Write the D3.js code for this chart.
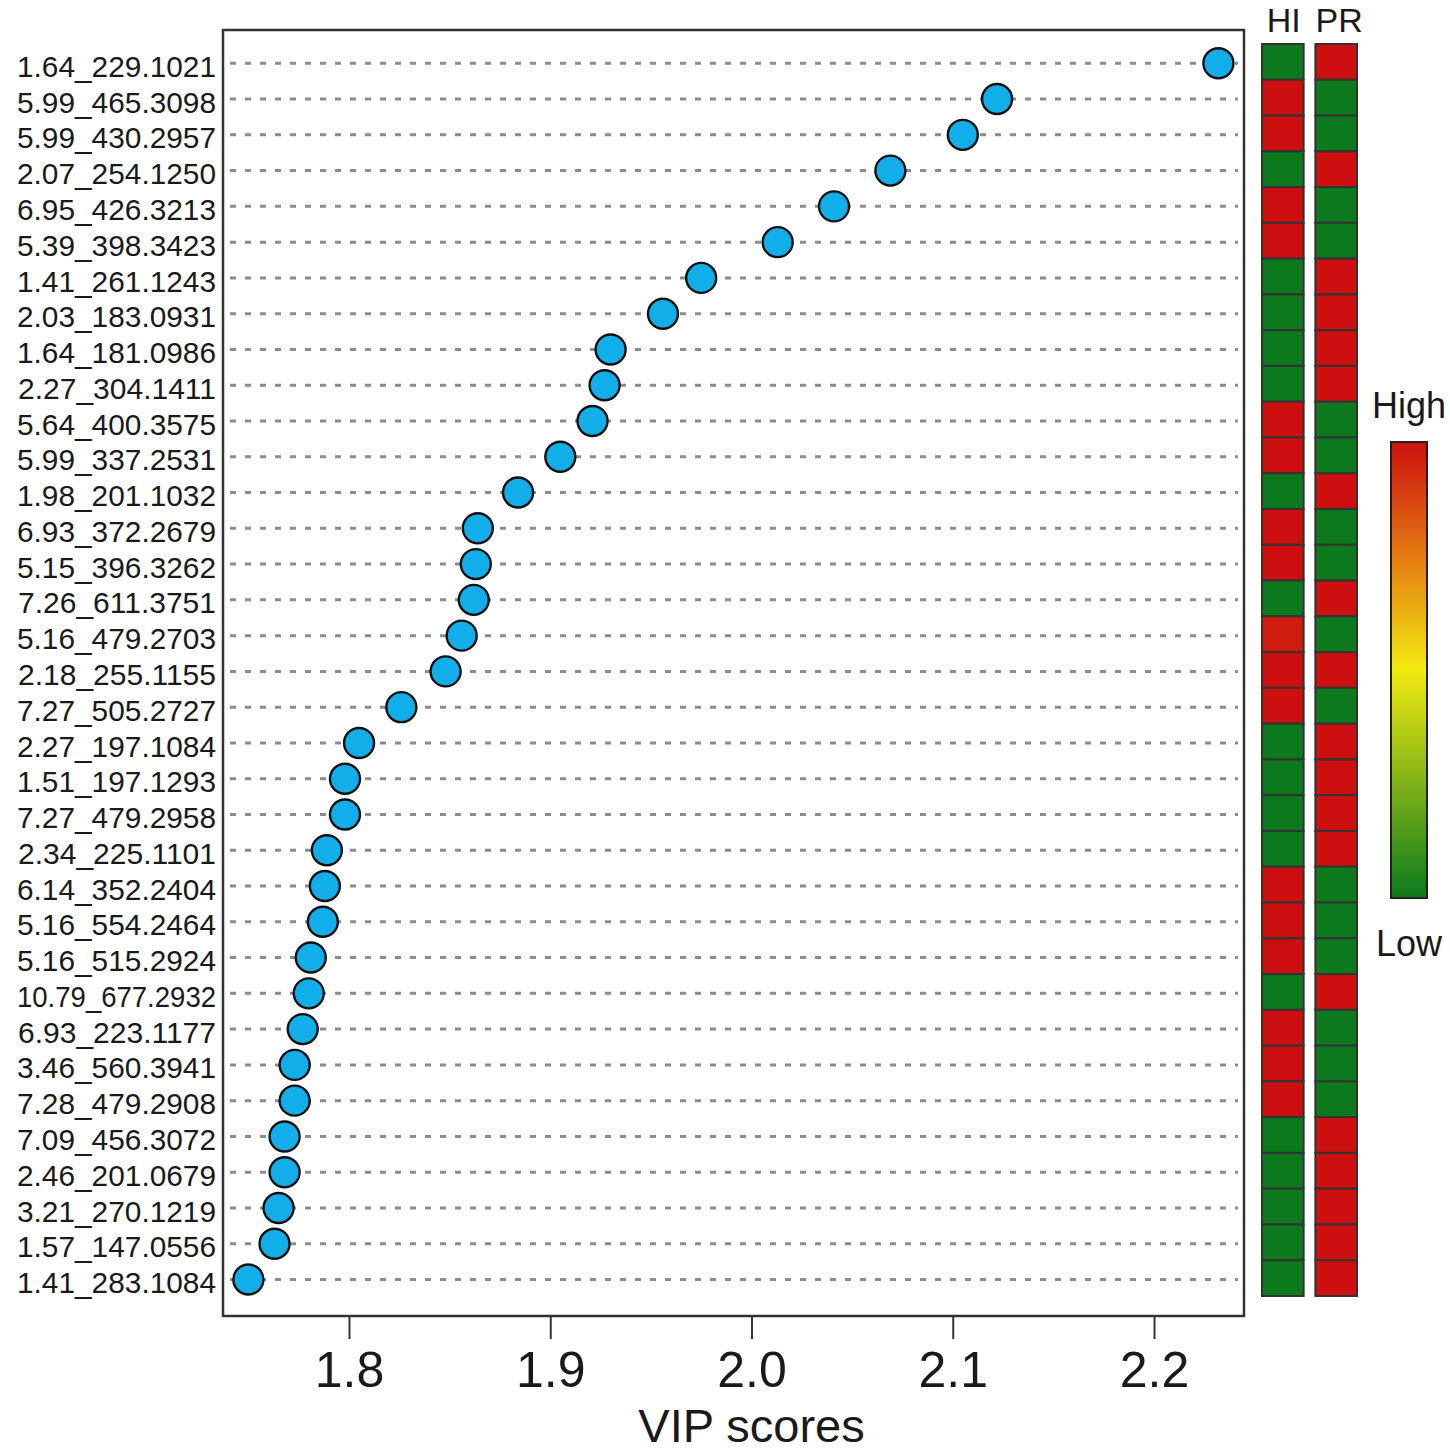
<!DOCTYPE html>
<html>
<head>
<meta charset="UTF-8">
<script src="https://d3js.org/d3.v7.min.js"></script>
<style>
body{margin:0;background:#fff}
svg{display:block}
text{font-family:"Liberation Sans",Arial,Helvetica,sans-serif;fill:#1a1a1a}
</style>
</head>
<body>
<div id="chart"></div>
<script>
// compounds, top to bottom (rt_mz)
const compounds = [
  '1.64_229.1021', '5.99_465.3098', '5.99_430.2957', '2.07_254.1250', '6.95_426.3213',
  '5.39_398.3423', '1.41_261.1243', '2.03_183.0931', '1.64_181.0986', '2.27_304.1411',
  '5.64_400.3575', '5.99_337.2531', '1.98_201.1032', '6.93_372.2679', '5.15_396.3262',
  '7.26_611.3751', '5.16_479.2703', '2.18_255.1155', '7.27_505.2727', '2.27_197.1084',
  '1.51_197.1293', '7.27_479.2958', '2.34_225.1101', '6.14_352.2404', '5.16_554.2464',
  '5.16_515.2924', '10.79_677.2932', '6.93_223.1177', '3.46_560.3941', '7.28_479.2908',
  '7.09_456.3072', '2.46_201.0679', '3.21_270.1219', '1.57_147.0556', '1.41_283.1084'
];

const vip = [
  2.232, 2.122, 2.105, 2.069, 2.041,
  2.013, 1.975, 1.956, 1.930, 1.927,
  1.921, 1.905, 1.884, 1.864, 1.863,
  1.862, 1.856, 1.848, 1.826, 1.805,
  1.798, 1.798, 1.789, 1.788, 1.787,
  1.781, 1.780, 1.777, 1.773, 1.773,
  1.768, 1.768, 1.765, 1.763, 1.750
];

// relative level per group, 0 = low, 1 = high
const hi = [
  0, 1, 1, 0, 1, 1, 0, 0, 0, 0, 1, 1, 0, 1, 1, 0, 0.97, 1,
  1, 0, 0, 0, 0, 1, 1, 1, 0, 1, 1, 1, 0, 0, 0, 0, 0
];
const pr = [
  1, 0, 0, 1, 0, 0, 1, 1, 1, 1, 0, 0, 1, 0, 0, 1, 0, 1,
  0, 1, 1, 1, 1, 0, 0, 0, 1, 0, 0, 0, 1, 1, 1, 1, 1
];

const groups = ['HI', 'PR'];
const xTicks = [1.8, 1.9, 2.0, 2.1, 2.2];

const W = 1450, H = 1453;
const frame = { left: 223, right: 1244, top: 30, bottom: 1316 };
const labelMax = 199;

const svg = d3.select('#chart').append('svg').attr('width', W).attr('height', H);

const x = d3.scaleLinear().domain([1.8, 2.2]).range([349, 1154]);
const y = d3.scaleBand().domain(compounds).range([44, 1296]);
const yc = d => y(d) + y.bandwidth() / 2;

const color = d3.scaleLinear()
  .domain([0, 0.5, 0.75, 1])
  .range(['#0c7a1c', '#f2ea12', '#e57a12', '#cc0f0f']);

// dashed guide lines
svg.append('g').selectAll('line').data(compounds).join('line')
  .attr('x1', frame.left + 7).attr('x2', frame.right - 6)
  .attr('y1', d => yc(d) + 1.4).attr('y2', d => yc(d) + 1.4)
  .attr('stroke', '#8c8c8c').attr('stroke-width', 3).attr('stroke-dasharray', '6,9');

// frame
svg.append('rect')
  .attr('x', frame.left).attr('y', frame.top)
  .attr('width', frame.right - frame.left).attr('height', frame.bottom - frame.top)
  .attr('fill', 'none').attr('stroke', '#333').attr('stroke-width', 2.5);

// points
svg.append('g').selectAll('circle').data(compounds).join('circle')
  .attr('cx', (d, i) => x(vip[i]))
  .attr('cy', d => yc(d) + 1.4)
  .attr('r', 15)
  .attr('fill', '#12aeea').attr('stroke', '#111').attr('stroke-width', 2.4);

// row labels, long ones squeezed to the common width
svg.append('g').selectAll('text').data(compounds).join('text')
  .attr('x', 216).attr('y', d => yc(d) + 15)
  .attr('text-anchor', 'end').attr('font-size', 30)
  .text(d => d)
  .each(function () {
    if (this.getComputedTextLength() > labelMax) {
      d3.select(this).attr('textLength', labelMax).attr('lengthAdjust', 'spacingAndGlyphs');
    }
  });

// x axis
const xAxis = svg.append('g').attr('transform', `translate(0,${frame.bottom})`)
  .call(d3.axisBottom(x).tickValues(xTicks).tickFormat(d3.format('.1f')).tickSize(23).tickPadding(12));
xAxis.select('.domain').remove();
xAxis.selectAll('.tick line').attr('stroke', '#333').attr('stroke-width', 2);
xAxis.selectAll('.tick text').attr('font-size', 50).attr('fill', '#1a1a1a')
  .attr('font-family', '"Liberation Sans",Arial,sans-serif');

svg.append('text')
  .attr('x', x(2.0)).attr('y', 1442)
  .attr('text-anchor', 'middle').attr('font-size', 47)
  .text('VIP scores');

// heatmap
const gx = d3.scaleBand().domain(groups).range([1262, 1357]).paddingInner(0.22);
const heat = [hi, pr];
groups.forEach((g, gi) => {
  svg.append('g').selectAll('rect').data(compounds).join('rect')
    .attr('x', gx(g)).attr('y', d => y(d))
    .attr('width', gx.bandwidth()).attr('height', y.bandwidth())
    .attr('fill', (d, i) => color(heat[gi][i]))
    .attr('stroke', '#333').attr('stroke-width', 2);
  svg.append('text')
    .attr('x', gx(g) + gx.bandwidth() / 2 + (gi ? 3 : 1)).attr('y', 32)
    .attr('text-anchor', 'middle').attr('font-size', 34)
    .text(g);
});

// colour legend
const defs = svg.append('defs');
const grad = defs.append('linearGradient').attr('id', 'lg')
  .attr('x1', 0).attr('x2', 0).attr('y1', 1).attr('y2', 0);
grad.selectAll('stop').data(color.domain()).join('stop')
  .attr('offset', d => d)
  .attr('stop-color', d => color(d));

const lg = { x: 1391, y: 442, w: 36, h: 456 };
svg.append('rect')
  .attr('x', lg.x).attr('y', lg.y).attr('width', lg.w).attr('height', lg.h)
  .attr('fill', 'url(#lg)').attr('stroke', '#222').attr('stroke-width', 2);
svg.append('text')
  .attr('x', lg.x + lg.w / 2).attr('y', 418)
  .attr('text-anchor', 'middle').attr('font-size', 36)
  .text('High');
svg.append('text')
  .attr('x', lg.x + lg.w / 2).attr('y', 956)
  .attr('text-anchor', 'middle').attr('font-size', 36)
  .text('Low');
</script>
</body>
</html>
